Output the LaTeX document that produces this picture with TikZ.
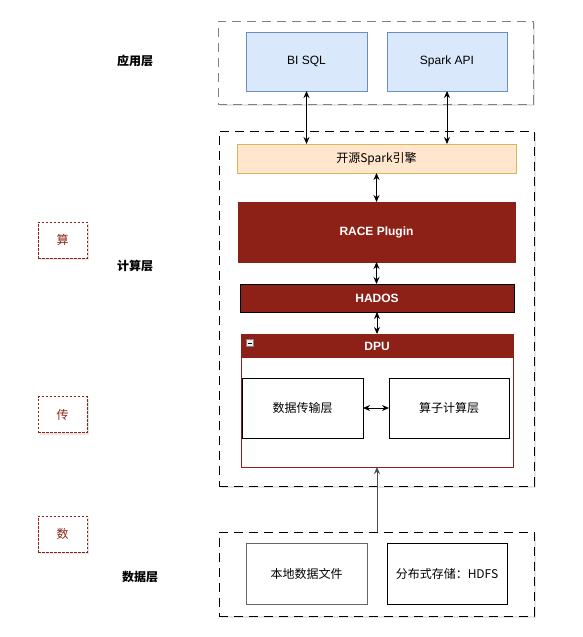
\documentclass[tikz,border=0pt]{standalone}
\usepackage{fontspec}
\setmainfont{Liberation Sans}
\newfontfamily\cjk{Noto Sans CJK SC}
\usetikzlibrary{arrows.meta,shadows}
\definecolor{hong}{HTML}{8E2117}
\definecolor{lanfill}{HTML}{DAE8FC}
\definecolor{landraw}{HTML}{6C8EBF}
\definecolor{chengfill}{HTML}{FFE6CC}
\definecolor{chengdraw}{HTML}{D6B656}
\tikzset{
  kuang/.style={draw, line width=1pt, inner sep=0pt, outer sep=0pt, font=\fontsize{12}{14}\selectfont},
  zu/.style={kuang, fill=white, line width=1pt, dash pattern=on 9pt off 6pt, drop shadow={opacity=0.2, shadow xshift=2pt, shadow yshift=-2pt}},
  xiao/.style={kuang, fill=white, draw=hong, line width=0.8pt, dash pattern=on 2.5pt off 1.5pt, text=hong, minimum width=49pt, minimum height=36pt, drop shadow={opacity=0.2, shadow xshift=2pt, shadow yshift=-2pt}},
  ceng/.style={font=\cjk\bfseries\fontsize{12}{14}\selectfont},
  shuang/.style={{Stealth[length=7pt,width=6pt]}-{Stealth[length=7pt,width=6pt]}, line width=0.9pt},
}
\begin{document}
\begin{tikzpicture}[x=1pt,y=-1pt]
  \useasboundingbox (0,0) rectangle (583,637);
  % 应用层
  \node[zu, draw=gray, minimum width=315pt, minimum height=83pt] (appg) at (375.5,62.5) {};
  \node[kuang, draw=landraw, fill=lanfill, minimum width=121pt, minimum height=59pt] (bi) at (306.5,61.5) {BI SQL};
  \node[kuang, draw=landraw, fill=lanfill, minimum width=120pt, minimum height=59pt] (api) at (447,61.5) {Spark API};
  % 计算层
  \node[zu, minimum width=315pt, minimum height=355pt] (compg) at (376.5,308.5) {};
  \node[kuang, draw=chengdraw, fill=chengfill, minimum width=279pt, minimum height=29pt] (eng) at (376.5,158.5) {\cjk 开源Spark引擎};
  \node[kuang, draw=hong, fill=hong, text=white, font=\bfseries\fontsize{12}{14}\selectfont, minimum width=277pt, minimum height=60pt] (race) at (376.5,232) {RACE Plugin};
  \node[kuang, fill=hong, text=white, font=\bfseries\fontsize{12}{14}\selectfont, minimum width=274pt, minimum height=28pt] (hados) at (377,298) {HADOS};
  % DPU
  \node[kuang, draw=hong, fill=white, minimum width=272pt, minimum height=133pt] (dpu) at (377,400.5) {};
  \fill[hong] (dpu.north west) rectangle ([yshift=-24pt]dpu.north east);
  \node[text=white, font=\bfseries\fontsize{12}{14}\selectfont] (dputitle) at (377,346) {DPU};
  \node[draw=gray, fill=gray!15, line width=0.5pt, minimum size=7pt, inner sep=0pt] (fold) at (249.5,343) {};
  \draw[line width=1pt] ([xshift=-2pt]fold.center) -- ([xshift=2pt]fold.center);
  \node[kuang, minimum width=121pt, minimum height=60pt] (trans) at (302.5,408) {\cjk 数据传输层};
  \node[kuang, minimum width=120pt, minimum height=60pt] (op) at (449,408) {\cjk 算子计算层};
  % 数据层
  \node[zu, minimum width=315pt, minimum height=84pt] (datag) at (376.5,574) {};
  \node[kuang, draw=gray!80!black, minimum width=121pt, minimum height=61pt] (local) at (306.5,573.5) {\cjk 本地数据文件};
  \node[kuang, minimum width=120pt, minimum height=61pt] (hdfs) at (447,573.5) {\cjk 分布式存储：HDFS};
  % 左侧
  \node[ceng] (l1) at (135,61) {应用层};
  \node[ceng] (l2) at (135,266) {计算层};
  \node[ceng] (l3) at (140,577) {数据层};
  \node[xiao] (suan) at (62.5,240) {\cjk 算};
  \node[xiao] (chuan) at (62.5,414.5) {\cjk 传};
  \node[xiao] (shu) at (62.5,534) {\cjk 数};
  % 箭头
  \draw[shuang] (bi.south) -- (bi.south |- eng.north);
  \draw[shuang] (api.south) -- (api.south |- eng.north);
  \draw[shuang] (eng.south) -- (race.north);
  \draw[shuang] (race.south) -- (race.south |- hados.north);
  \draw[shuang] (hados.south) -- (hados.south |- dpu.north);
  \draw[shuang] (trans.east) -- (op.west);
  \draw[-{Stealth[length=7pt,width=6pt]}, line width=1pt, gray!60!black] (datag.north -| dpu.south) -- (dpu.south);
\end{tikzpicture}
\end{document}
